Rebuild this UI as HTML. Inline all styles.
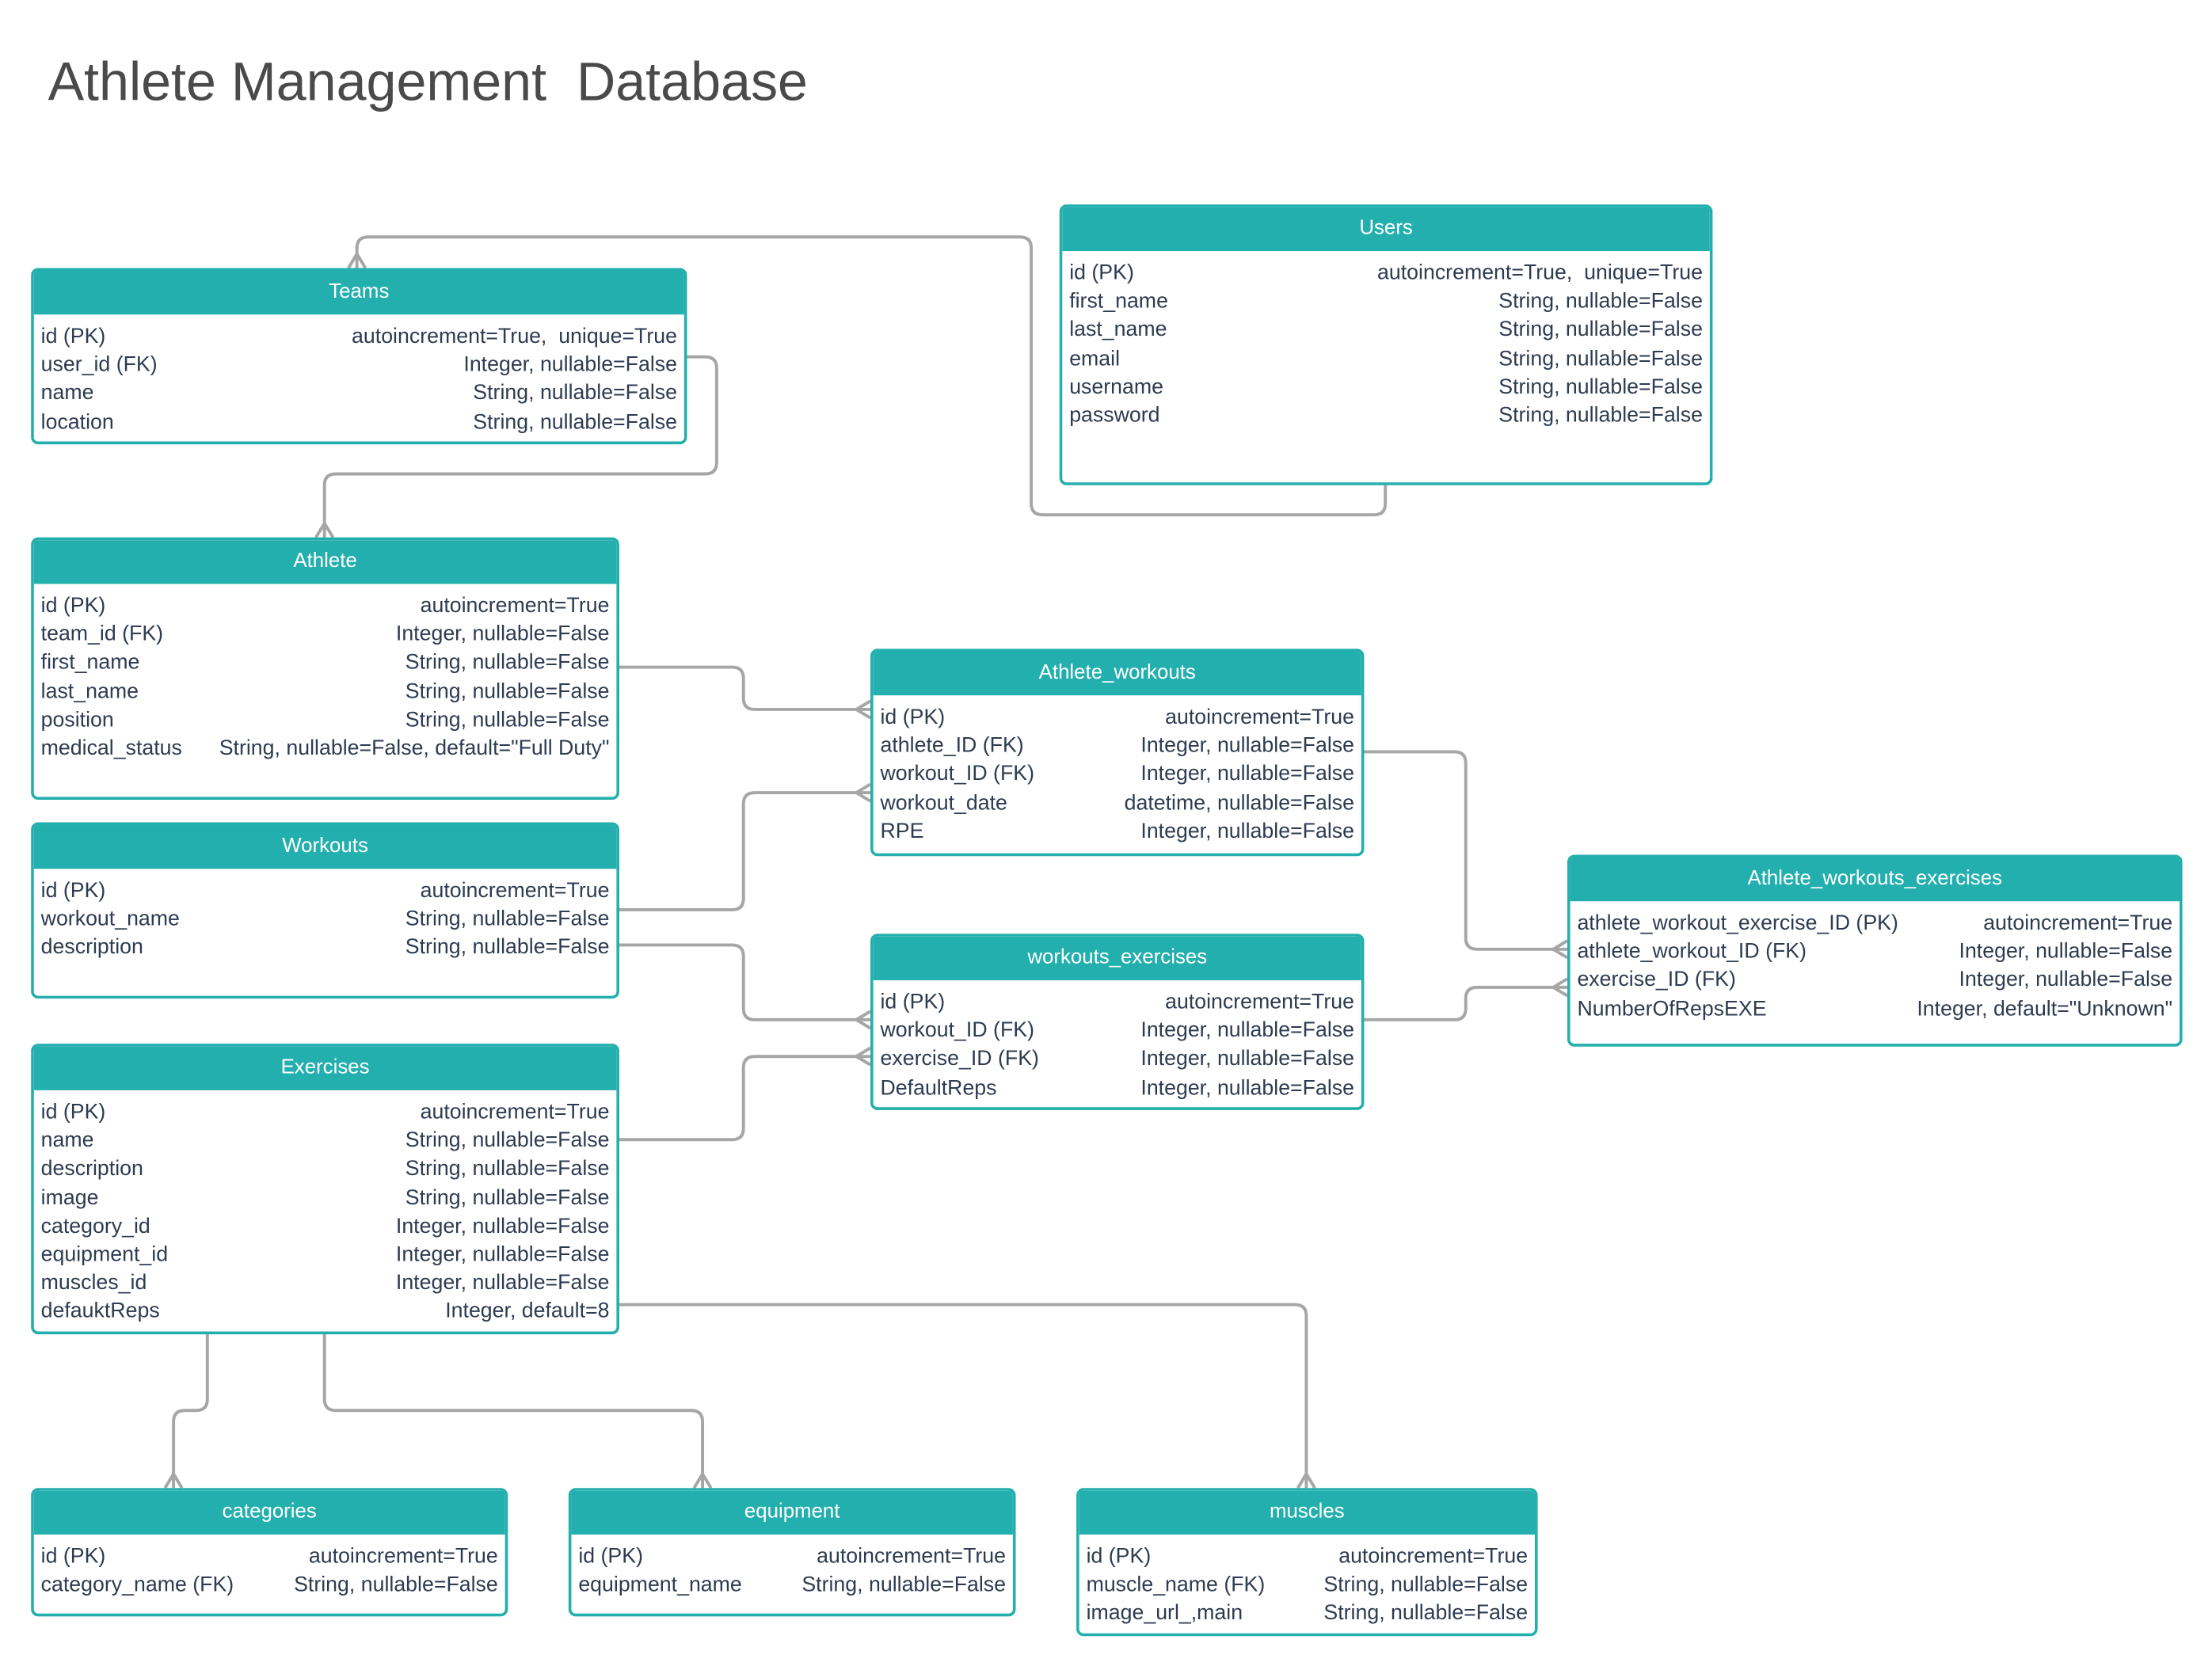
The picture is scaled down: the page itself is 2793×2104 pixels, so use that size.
<!DOCTYPE html>
<html><head><meta charset="utf-8">
<style>
html,body{margin:0;padding:0;background:#fff;}
body{width:2793px;height:2104px;overflow:hidden;position:relative;}
#w{position:absolute;left:0;top:0;width:1568px;height:1181px;transform:scale(1.78125);transform-origin:0 0;font-family:"Liberation Sans",sans-serif;}
.t{position:absolute;border:2px solid #23afad;border-radius:5px;background:#fff;box-sizing:border-box;overflow:hidden;}
.h{background:#23afad;color:#fff;text-align:center;font-size:14.5px;height:31px;line-height:31px;}
.b{padding-top:6px;}
.r{height:20.2px;line-height:20.2px;font-size:15px;color:#2e3b50;padding:0 5px;display:flex;justify-content:space-between;white-space:nowrap;}
.title{position:absolute;left:34px;top:37px;font-size:38.3px;color:#4a4a4a;white-space:pre;}
svg{position:absolute;left:0;top:0;}
</style></head><body><div id="w">
<div class="title">Athlete Management  Database</div>
<svg width="1568" height="1181" fill="none" stroke="#a6a6a6" stroke-width="2.2" stroke-linejoin="round">
<path d="M982 343 V357 Q982 365 974 365 H739 Q731 365 731 357 V176 Q731 168 723 168 H261 Q253 168 253 176 V190"/>
<path d="M247 190 L253 180 L259 190"/>
<path d="M486 253 H500 Q508 253 508 261 V328 Q508 336 500 336 H238 Q230 336 230 344 V381"/>
<path d="M224 381 L230 371 L236 381"/>
<path d="M438 473 H519 Q527 473 527 481 V495 Q527 503 535 503 H617"/>
<path d="M617 497 L607 503 L617 509"/>
<path d="M438 645 H519 Q527 645 527 637 V570 Q527 562 535 562 H617"/>
<path d="M617 556 L607 562 L617 568"/>
<path d="M438 670 H519 Q527 670 527 678 V715 Q527 723 535 723 H617"/>
<path d="M617 717 L607 723 L617 729"/>
<path d="M438 808 H519 Q527 808 527 800 V757 Q527 749 535 749 H617"/>
<path d="M617 743 L607 749 L617 755"/>
<path d="M966 533 H1031 Q1039 533 1039 541 V665 Q1039 673 1047 673 H1111"/>
<path d="M1111 667 L1101 673 L1111 679"/>
<path d="M966 723 H1031 Q1039 723 1039 715 V708 Q1039 700 1047 700 H1111"/>
<path d="M1111 694 L1101 700 L1111 706"/>
<path d="M438 925 H918 Q926 925 926 933 V1055"/>
<path d="M920 1055 L926 1045 L932 1055"/>
<path d="M147 945 V992 Q147 1000 139 1000 H131 Q123 1000 123 1008 V1055"/>
<path d="M117 1055 L123 1045 L129 1055"/>
<path d="M230 945 V992 Q230 1000 238 1000 H490 Q498 1000 498 1008 V1055"/>
<path d="M492 1055 L498 1045 L504 1055"/>
</svg>

<div class="t" style="left:22px;top:190px;width:465px;height:125px"><div class="h">Teams</div><div class="b">
<div class="r"><span>id (PK)</span><span>autoincrement=True,&nbsp; unique=True</span></div>
<div class="r"><span>user_id (FK)</span><span>Integer, nullable=False</span></div>
<div class="r"><span>name</span><span>String, nullable=False</span></div>
<div class="r"><span>location</span><span>String, nullable=False</span></div></div></div>

<div class="t" style="left:751px;top:145px;width:463px;height:199px"><div class="h">Users</div><div class="b">
<div class="r"><span>id (PK)</span><span>autoincrement=True,&nbsp; unique=True</span></div>
<div class="r"><span>first_name</span><span>String, nullable=False</span></div>
<div class="r"><span>last_name</span><span>String, nullable=False</span></div>
<div class="r"><span>email</span><span>String, nullable=False</span></div>
<div class="r"><span>username</span><span>String, nullable=False</span></div>
<div class="r"><span>password</span><span>String, nullable=False</span></div></div></div>

<div class="t" style="left:22px;top:381px;width:417px;height:186px"><div class="h">Athlete</div><div class="b">
<div class="r"><span>id (PK)</span><span>autoincrement=True</span></div>
<div class="r"><span>team_id (FK)</span><span>Integer, nullable=False</span></div>
<div class="r"><span>first_name</span><span>String, nullable=False</span></div>
<div class="r"><span>last_name</span><span>String, nullable=False</span></div>
<div class="r"><span>position</span><span>String, nullable=False</span></div>
<div class="r"><span>medical_status</span><span>String, nullable=False, default="Full Duty"</span></div></div></div>

<div class="t" style="left:22px;top:583px;width:417px;height:125px"><div class="h">Workouts</div><div class="b">
<div class="r"><span>id (PK)</span><span>autoincrement=True</span></div>
<div class="r"><span>workout_name</span><span>String, nullable=False</span></div>
<div class="r"><span>description</span><span>String, nullable=False</span></div></div></div>

<div class="t" style="left:22px;top:740px;width:417px;height:206px"><div class="h">Exercises</div><div class="b">
<div class="r"><span>id (PK)</span><span>autoincrement=True</span></div>
<div class="r"><span>name</span><span>String, nullable=False</span></div>
<div class="r"><span>description</span><span>String, nullable=False</span></div>
<div class="r"><span>image</span><span>String, nullable=False</span></div>
<div class="r"><span>category_id</span><span>Integer, nullable=False</span></div>
<div class="r"><span>equipment_id</span><span>Integer, nullable=False</span></div>
<div class="r"><span>muscles_id</span><span>Integer, nullable=False</span></div>
<div class="r"><span>defauktReps</span><span>Integer, default=8</span></div></div></div>

<div class="t" style="left:617px;top:460px;width:350px;height:147px"><div class="h">Athlete_workouts</div><div class="b">
<div class="r"><span>id (PK)</span><span>autoincrement=True</span></div>
<div class="r"><span>athlete_ID (FK)</span><span>Integer, nullable=False</span></div>
<div class="r"><span>workout_ID (FK)</span><span>Integer, nullable=False</span></div>
<div class="r"><span>workout_date</span><span>datetime, nullable=False</span></div>
<div class="r"><span>RPE</span><span>Integer, nullable=False</span></div></div></div>

<div class="t" style="left:617px;top:662px;width:350px;height:125px"><div class="h">workouts_exercises</div><div class="b">
<div class="r"><span>id (PK)</span><span>autoincrement=True</span></div>
<div class="r"><span>workout_ID (FK)</span><span>Integer, nullable=False</span></div>
<div class="r"><span>exercise_ID (FK)</span><span>Integer, nullable=False</span></div>
<div class="r"><span>DefaultReps</span><span>Integer, nullable=False</span></div></div></div>

<div class="t" style="left:1111px;top:606px;width:436px;height:136px"><div class="h">Athlete_workouts_exercises</div><div class="b">
<div class="r"><span>athlete_workout_exercise_ID (PK)</span><span>autoincrement=True</span></div>
<div class="r"><span>athlete_workout_ID (FK)</span><span>Integer, nullable=False</span></div>
<div class="r"><span>exercise_ID (FK)</span><span>Integer, nullable=False</span></div>
<div class="r"><span>NumberOfRepsEXE</span><span>Integer, default="Unknown"</span></div></div></div>

<div class="t" style="left:22px;top:1055px;width:338px;height:91px"><div class="h">categories</div><div class="b">
<div class="r"><span>id (PK)</span><span>autoincrement=True</span></div>
<div class="r"><span>category_name (FK)</span><span>String, nullable=False</span></div></div></div>

<div class="t" style="left:403px;top:1055px;width:317px;height:91px"><div class="h">equipment</div><div class="b">
<div class="r"><span>id (PK)</span><span>autoincrement=True</span></div>
<div class="r"><span>equipment_name</span><span>String, nullable=False</span></div></div></div>

<div class="t" style="left:763px;top:1055px;width:327px;height:105px"><div class="h">muscles</div><div class="b">
<div class="r"><span>id (PK)</span><span>autoincrement=True</span></div>
<div class="r"><span>muscle_name (FK)</span><span>String, nullable=False</span></div>
<div class="r"><span>image_url_,main</span><span>String, nullable=False</span></div></div></div>
</div></body></html>
